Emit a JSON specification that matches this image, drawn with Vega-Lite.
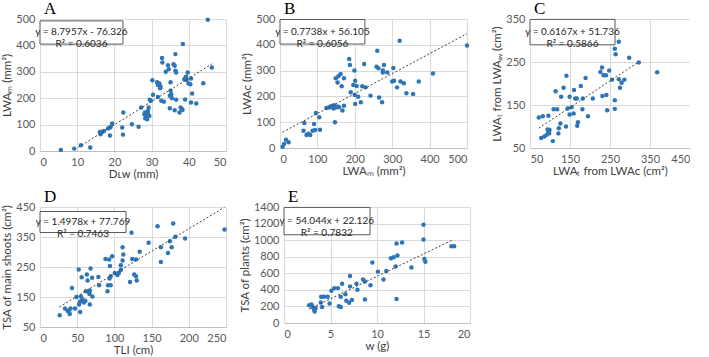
{
  "$schema": "https://vega.github.io/schema/vega-lite/v6.json",
  "background": "white",
  "padding": {"left": 1, "top": 0, "right": 0, "bottom": 0},
  "config": {
    "view": {"stroke": null},
    "font": "Lato",
    "axis": {
      "gridColor": "#d9d9d9",
      "gridWidth": 1,
      "ticks": false,
      "labelOverlap": false,
      "labelColor": "#595959",
      "labelFontSize": 11,
      "titleFontSize": 11.5,
      "titleFontWeight": "normal",
      "titleColor": "#404040"
    },
    "axisX": {"domainColor": "#bfbfbf", "labelPadding": 5, "titlePadding": 1},
    "axisY": {"domain": false, "labelPadding": 5, "titlePadding": 3},
    "title": {
      "anchor": "start",
      "frame": "group",
      "font": "Liberation Serif",
      "fontSize": 17,
      "fontWeight": "normal",
      "color": "#000000",
      "offset": -5,
      "dx": 4
    },
    "circle": {"size": 20, "color": "#2E75B6", "opacity": 1},
    "line": {"color": "#404040", "strokeDash": [2, 2], "strokeWidth": 1},
    "rect": {"fill": "white", "stroke": "#595959", "strokeWidth": 1},
    "text": {"fontSize": 10, "color": "#262626", "lineHeight": 12, "baseline": "middle", "align": "center"}
  },
  "datasets": {
    "a": [
      {"x": 5.6, "y": 4}, {"x": 9.2, "y": 9}, {"x": 11.0, "y": 22}, {"x": 13.5, "y": 13},
      {"x": 16.1, "y": 72}, {"x": 16.3, "y": 63}, {"x": 16.8, "y": 73}, {"x": 17.2, "y": 76},
      {"x": 18.3, "y": 85}, {"x": 18.8, "y": 89}, {"x": 19.0, "y": 91}, {"x": 19.4, "y": 104},
      {"x": 18.8, "y": 59}, {"x": 22.1, "y": 89}, {"x": 22.4, "y": 146}, {"x": 22.3, "y": 62},
      {"x": 24.7, "y": 101}, {"x": 26.5, "y": 92}, {"x": 27.2, "y": 165}, {"x": 28.1, "y": 139},
      {"x": 28.2, "y": 146}, {"x": 28.4, "y": 137}, {"x": 28.6, "y": 127}, {"x": 28.8, "y": 120},
      {"x": 28.3, "y": 124}, {"x": 29.0, "y": 152}, {"x": 29.2, "y": 165}, {"x": 29.4, "y": 133},
      {"x": 29.0, "y": 142}, {"x": 29.5, "y": 194}, {"x": 29.8, "y": 190}, {"x": 30.2, "y": 268},
      {"x": 30.4, "y": 213}, {"x": 31.5, "y": 260}, {"x": 31.7, "y": 250}, {"x": 32.1, "y": 256},
      {"x": 32.4, "y": 244}, {"x": 31.7, "y": 205}, {"x": 32.6, "y": 190}, {"x": 32.3, "y": 238},
      {"x": 32.8, "y": 352}, {"x": 32.9, "y": 335}, {"x": 33.3, "y": 187}, {"x": 33.8, "y": 300},
      {"x": 34.4, "y": 325}, {"x": 34.6, "y": 310}, {"x": 34.9, "y": 162}, {"x": 35.1, "y": 260},
      {"x": 35.1, "y": 228}, {"x": 35.3, "y": 215}, {"x": 34.9, "y": 209}, {"x": 35.5, "y": 200},
      {"x": 35.9, "y": 329}, {"x": 36.2, "y": 323}, {"x": 36.4, "y": 304}, {"x": 36.4, "y": 367},
      {"x": 36.6, "y": 297}, {"x": 36.2, "y": 154}, {"x": 36.6, "y": 194}, {"x": 37.5, "y": 146},
      {"x": 37.8, "y": 165}, {"x": 38.2, "y": 158}, {"x": 38.4, "y": 405}, {"x": 38.3, "y": 155},
      {"x": 38.8, "y": 272}, {"x": 39.1, "y": 278}, {"x": 39.3, "y": 281}, {"x": 39.4, "y": 269},
      {"x": 39.0, "y": 195}, {"x": 39.7, "y": 297}, {"x": 39.9, "y": 256}, {"x": 40.4, "y": 253},
      {"x": 40.6, "y": 275}, {"x": 40.6, "y": 184}, {"x": 40.9, "y": 218}, {"x": 42.0, "y": 180},
      {"x": 43.9, "y": 257}, {"x": 45.1, "y": 497}, {"x": 46.2, "y": 316}
    ],
    "a_fit": [{"x": 10.3, "y": 14.27}, {"x": 46.2, "y": 330.0}],
    "b": [
      {"x": 7, "y": 5}, {"x": 11, "y": 16}, {"x": 16, "y": 32}, {"x": 23, "y": 22},
      {"x": 63, "y": 67}, {"x": 65, "y": 97}, {"x": 71, "y": 50}, {"x": 76, "y": 55},
      {"x": 81, "y": 50}, {"x": 87, "y": 67}, {"x": 94, "y": 70}, {"x": 91, "y": 93},
      {"x": 96, "y": 136}, {"x": 105, "y": 119}, {"x": 107, "y": 71}, {"x": 124, "y": 155},
      {"x": 131, "y": 157}, {"x": 135, "y": 161}, {"x": 140, "y": 163}, {"x": 143, "y": 153},
      {"x": 145, "y": 166}, {"x": 149, "y": 157}, {"x": 154, "y": 161}, {"x": 149, "y": 270},
      {"x": 156, "y": 278}, {"x": 154, "y": 254}, {"x": 162, "y": 287}, {"x": 165, "y": 239},
      {"x": 167, "y": 145}, {"x": 171, "y": 164}, {"x": 171, "y": 270}, {"x": 147, "y": 100},
      {"x": 158, "y": 158}, {"x": 185, "y": 345}, {"x": 187, "y": 322}, {"x": 189, "y": 216},
      {"x": 196, "y": 244}, {"x": 199, "y": 300}, {"x": 201, "y": 261}, {"x": 200, "y": 205},
      {"x": 201, "y": 171}, {"x": 205, "y": 240}, {"x": 209, "y": 199}, {"x": 216, "y": 177},
      {"x": 220, "y": 239}, {"x": 225, "y": 326}, {"x": 229, "y": 235}, {"x": 242, "y": 203},
      {"x": 260, "y": 377}, {"x": 258, "y": 315}, {"x": 263, "y": 309}, {"x": 265, "y": 196},
      {"x": 273, "y": 177}, {"x": 275, "y": 300}, {"x": 278, "y": 322}, {"x": 275, "y": 293},
      {"x": 287, "y": 293}, {"x": 300, "y": 258}, {"x": 303, "y": 310}, {"x": 305, "y": 261},
      {"x": 313, "y": 235}, {"x": 320, "y": 416}, {"x": 322, "y": 258}, {"x": 331, "y": 251},
      {"x": 338, "y": 212}, {"x": 356, "y": 209}, {"x": 371, "y": 258}, {"x": 409, "y": 289},
      {"x": 500, "y": 397}
    ],
    "b_fit": [{"x": 7, "y": 61.52}, {"x": 500, "y": 443.0}],
    "c": [
      {"x": 72, "y": 121}, {"x": 78, "y": 73}, {"x": 82, "y": 124}, {"x": 86, "y": 77},
      {"x": 92, "y": 81}, {"x": 94, "y": 93}, {"x": 96, "y": 88}, {"x": 98, "y": 84},
      {"x": 99, "y": 92}, {"x": 96, "y": 125}, {"x": 107, "y": 66}, {"x": 109, "y": 140},
      {"x": 114, "y": 182}, {"x": 118, "y": 140}, {"x": 121, "y": 84}, {"x": 122, "y": 96},
      {"x": 126, "y": 107}, {"x": 128, "y": 169}, {"x": 134, "y": 190}, {"x": 140, "y": 100},
      {"x": 141, "y": 218}, {"x": 144, "y": 142}, {"x": 149, "y": 169}, {"x": 149, "y": 128},
      {"x": 154, "y": 145}, {"x": 159, "y": 130}, {"x": 160, "y": 185}, {"x": 163, "y": 165},
      {"x": 167, "y": 165}, {"x": 170, "y": 110}, {"x": 168, "y": 102}, {"x": 177, "y": 194},
      {"x": 181, "y": 140}, {"x": 182, "y": 165}, {"x": 189, "y": 213}, {"x": 195, "y": 124},
      {"x": 207, "y": 165}, {"x": 226, "y": 227}, {"x": 230, "y": 237}, {"x": 231, "y": 171},
      {"x": 234, "y": 219}, {"x": 240, "y": 219}, {"x": 241, "y": 173}, {"x": 243, "y": 138},
      {"x": 248, "y": 230}, {"x": 255, "y": 209}, {"x": 262, "y": 281}, {"x": 264, "y": 268},
      {"x": 262, "y": 161}, {"x": 262, "y": 141}, {"x": 272, "y": 297}, {"x": 272, "y": 210},
      {"x": 275, "y": 190}, {"x": 279, "y": 202}, {"x": 286, "y": 209}, {"x": 298, "y": 260},
      {"x": 322, "y": 249}, {"x": 368, "y": 226}
    ],
    "c_fit": [{"x": 72, "y": 96.14}, {"x": 322, "y": 250.31}],
    "d": [
      {"x": 26.5, "y": 89}, {"x": 33.6, "y": 112}, {"x": 37, "y": 104}, {"x": 39, "y": 101},
      {"x": 40, "y": 93}, {"x": 41, "y": 112}, {"x": 43, "y": 180}, {"x": 47, "y": 112},
      {"x": 49, "y": 150}, {"x": 52, "y": 242}, {"x": 52.5, "y": 125}, {"x": 54, "y": 100},
      {"x": 54, "y": 135}, {"x": 55, "y": 152}, {"x": 56, "y": 216}, {"x": 57, "y": 142},
      {"x": 59, "y": 132}, {"x": 61, "y": 137}, {"x": 61.5, "y": 169}, {"x": 63, "y": 225},
      {"x": 64, "y": 205}, {"x": 66, "y": 165}, {"x": 66.5, "y": 160}, {"x": 67, "y": 172},
      {"x": 67, "y": 125}, {"x": 68, "y": 245}, {"x": 70, "y": 214}, {"x": 70.5, "y": 152},
      {"x": 78.5, "y": 217}, {"x": 79.5, "y": 189}, {"x": 88, "y": 277}, {"x": 90.7, "y": 169},
      {"x": 91.5, "y": 189}, {"x": 93, "y": 275}, {"x": 94, "y": 253}, {"x": 95, "y": 219},
      {"x": 93.5, "y": 212}, {"x": 95, "y": 189}, {"x": 97, "y": 286}, {"x": 100.5, "y": 230},
      {"x": 104, "y": 223}, {"x": 106, "y": 230}, {"x": 108.6, "y": 256}, {"x": 111, "y": 316},
      {"x": 112, "y": 292}, {"x": 111, "y": 272}, {"x": 108.6, "y": 240}, {"x": 121, "y": 200},
      {"x": 123, "y": 364}, {"x": 124, "y": 277}, {"x": 126.6, "y": 225}, {"x": 129, "y": 219},
      {"x": 130, "y": 205}, {"x": 129, "y": 275}, {"x": 134, "y": 301}, {"x": 146, "y": 331},
      {"x": 158, "y": 386}, {"x": 162.5, "y": 316}, {"x": 162.5, "y": 267}, {"x": 172, "y": 297},
      {"x": 174.6, "y": 336}, {"x": 177, "y": 316}, {"x": 179, "y": 395}, {"x": 182, "y": 351},
      {"x": 195, "y": 345}, {"x": 248, "y": 375}
    ],
    "d_fit": [{"x": 26, "y": 116.71}, {"x": 248, "y": 449.22}],
    "e": [
      {"x": 2.7, "y": 215}, {"x": 2.96, "y": 223}, {"x": 3.07, "y": 194}, {"x": 3.25, "y": 161},
      {"x": 3.3, "y": 140}, {"x": 3.4, "y": 182}, {"x": 3.96, "y": 248}, {"x": 4.0, "y": 318},
      {"x": 4.1, "y": 194}, {"x": 4.3, "y": 318}, {"x": 4.7, "y": 318}, {"x": 4.9, "y": 235},
      {"x": 5.1, "y": 388}, {"x": 5.4, "y": 421}, {"x": 5.8, "y": 421}, {"x": 5.9, "y": 202},
      {"x": 6.1, "y": 318}, {"x": 6.1, "y": 194}, {"x": 6.25, "y": 475}, {"x": 6.6, "y": 347},
      {"x": 6.7, "y": 269}, {"x": 7.0, "y": 244}, {"x": 7.1, "y": 442}, {"x": 7.1, "y": 566},
      {"x": 7.3, "y": 277}, {"x": 7.8, "y": 475}, {"x": 7.9, "y": 401}, {"x": 8.5, "y": 525},
      {"x": 8.7, "y": 500}, {"x": 8.7, "y": 285}, {"x": 9.3, "y": 455}, {"x": 9.5, "y": 731},
      {"x": 10.1, "y": 620}, {"x": 10.7, "y": 525}, {"x": 11.0, "y": 628}, {"x": 11.5, "y": 781},
      {"x": 11.8, "y": 793}, {"x": 12.0, "y": 682}, {"x": 12.1, "y": 959}, {"x": 12.2, "y": 814},
      {"x": 12.1, "y": 289}, {"x": 12.7, "y": 971}, {"x": 13.7, "y": 669}, {"x": 15.0, "y": 1186},
      {"x": 15.0, "y": 1008}, {"x": 15.1, "y": 773}, {"x": 15.2, "y": 740}, {"x": 18.0, "y": 926},
      {"x": 18.3, "y": 926}
    ],
    "e_fit": [{"x": 2.7, "y": 168.05}, {"x": 18.1, "y": 1000.32}]
  },
  "spacing": 8,
  "vconcat": [
    {
      "spacing": 21,
      "hconcat": [
        {
          "spacing": 15,
          "hconcat": [
            {
              "width": 186,
              "height": 132,
              "title": {"text": "A"},
              "layer": [
                {
                  "data": {"name": "a"},
                  "mark": {"type": "circle"},
                  "encoding": {
                    "x": {"field": "x", "type": "quantitative", "title": "Dʟᴡ (mm)", "scale": {"domain": [0, 50], "nice": false}, "axis": {"values": [0, 10, 20, 30, 40, 50], "labelOverlap": false}},
                    "y": {"field": "y", "type": "quantitative", "title": "LWAₘ (mm²)", "scale": {"domain": [0, 500], "nice": false}, "axis": {"values": [0, 100, 200, 300, 400, 500], "labelOverlap": false}}
                  }
                },
                {
                  "data": {"name": "a_fit"},
                  "mark": {"type": "line"},
                  "encoding": {
                    "x": {"field": "x", "type": "quantitative", "title": "Dʟᴡ (mm)", "axis": {"values": [0, 10, 20, 30, 40, 50], "labelOverlap": false}},
                    "y": {"field": "y", "type": "quantitative", "title": "LWAₘ (mm²)", "axis": {"values": [0, 100, 200, 300, 400, 500], "labelOverlap": false}}
                  }
                },
                {
                  "data": {"values": [{"box": 1}]},
                  "mark": {"type": "rect"},
                  "encoding": {
                    "x": {"datum": 0, "type": "quantitative", "title": "Dʟᴡ (mm)", "axis": {"values": [0, 10, 20, 30, 40, 50], "labelOverlap": false}},
                    "x2": {"datum": 22.3},
                    "y": {"datum": 493, "type": "quantitative", "title": "LWAₘ (mm²)", "axis": {"values": [0, 100, 200, 300, 400, 500], "labelOverlap": false}},
                    "y2": {"datum": 405}
                  }
                },
                {
                  "data": {"values": [{"box": 1}]},
                  "mark": {"type": "text"},
                  "encoding": {
                    "x": {"datum": 11.15, "type": "quantitative", "title": "Dʟᴡ (mm)", "axis": {"values": [0, 10, 20, 30, 40, 50], "labelOverlap": false}},
                    "y": {"datum": 449, "type": "quantitative", "title": "LWAₘ (mm²)", "axis": {"values": [0, 100, 200, 300, 400, 500], "labelOverlap": false}},
                    "text": {"value": ["y = 8.7957x - 76.326", "R² = 0.6036"]}
                  }
                }
              ]
            },
            {
              "width": 187,
              "height": 129,
              "title": {"text": "B"},
              "layer": [
                {
                  "data": {"name": "b"},
                  "mark": {"type": "circle"},
                  "encoding": {
                    "x": {"field": "x", "type": "quantitative", "title": "LWAₘ (mm²)", "scale": {"domain": [0, 500], "nice": false}, "axis": {"values": [0, 100, 200, 300, 400, 500], "labelOverlap": false}},
                    "y": {"field": "y", "type": "quantitative", "title": "LWAᴄ (mm²)", "scale": {"domain": [0, 500], "nice": false}, "axis": {"values": [0, 100, 200, 300, 400, 500], "labelOverlap": false}}
                  }
                },
                {
                  "data": {"name": "b_fit"},
                  "mark": {"type": "line"},
                  "encoding": {
                    "x": {"field": "x", "type": "quantitative", "title": "LWAₘ (mm²)", "axis": {"values": [0, 100, 200, 300, 400, 500], "labelOverlap": false}},
                    "y": {"field": "y", "type": "quantitative", "title": "LWAᴄ (mm²)", "axis": {"values": [0, 100, 200, 300, 400, 500], "labelOverlap": false}}
                  }
                },
                {
                  "data": {"values": [{"box": 1}]},
                  "mark": {"type": "rect"},
                  "encoding": {
                    "x": {"datum": 0, "type": "quantitative", "title": "LWAₘ (mm²)", "axis": {"values": [0, 100, 200, 300, 400, 500], "labelOverlap": false}},
                    "x2": {"datum": 227},
                    "y": {"datum": 498, "type": "quantitative", "title": "LWAᴄ (mm²)", "axis": {"values": [0, 100, 200, 300, 400, 500], "labelOverlap": false}},
                    "y2": {"datum": 403}
                  }
                },
                {
                  "data": {"values": [{"box": 1}]},
                  "mark": {"type": "text"},
                  "encoding": {
                    "x": {"datum": 113.5, "type": "quantitative", "title": "LWAₘ (mm²)", "axis": {"values": [0, 100, 200, 300, 400, 500], "labelOverlap": false}},
                    "y": {"datum": 450, "type": "quantitative", "title": "LWAᴄ (mm²)", "axis": {"values": [0, 100, 200, 300, 400, 500], "labelOverlap": false}},
                    "text": {"value": ["y = 0.7738x + 56.105", "R² = 0.6056"]}
                  }
                }
              ]
            }
          ]
        },
        {
          "width": 160,
          "height": 129,
          "title": {"text": "C"},
          "layer": [
            {
              "data": {"name": "c"},
              "mark": {"type": "circle"},
              "encoding": {
                "x": {"field": "x", "type": "quantitative", "title": "LWAₜ from LWAᴄ (cm²)", "scale": {"domain": [50, 450], "nice": false}, "axis": {"values": [50, 150, 250, 350, 450], "labelOverlap": false}},
                "y": {"field": "y", "type": "quantitative", "title": "LWAₜ from LWAₐᵥ (cm²)", "scale": {"domain": [50, 350], "nice": false}, "axis": {"values": [50, 150, 250, 350], "labelOverlap": false}}
              }
            },
            {
              "data": {"name": "c_fit"},
              "mark": {"type": "line"},
              "encoding": {
                "x": {"field": "x", "type": "quantitative", "title": "LWAₜ from LWAᴄ (cm²)", "axis": {"values": [50, 150, 250, 350, 450], "labelOverlap": false}},
                "y": {"field": "y", "type": "quantitative", "title": "LWAₜ from LWAₐᵥ (cm²)", "axis": {"values": [50, 150, 250, 350], "labelOverlap": false}}
              }
            },
            {
              "data": {"values": [{"box": 1}]},
              "mark": {"type": "rect"},
              "encoding": {
                "x": {"datum": 50, "type": "quantitative", "title": "LWAₜ from LWAᴄ (cm²)", "axis": {"values": [50, 150, 250, 350, 450], "labelOverlap": false}},
                "x2": {"datum": 262.5},
                "y": {"datum": 349, "type": "quantitative", "title": "LWAₜ from LWAₐᵥ (cm²)", "axis": {"values": [50, 150, 250, 350], "labelOverlap": false}},
                "y2": {"datum": 290}
              }
            },
            {
              "data": {"values": [{"box": 1}]},
              "mark": {"type": "text"},
              "encoding": {
                "x": {"datum": 156.25, "type": "quantitative", "title": "LWAₜ from LWAᴄ (cm²)", "axis": {"values": [50, 150, 250, 350, 450], "labelOverlap": false}},
                "y": {"datum": 319.5, "type": "quantitative", "title": "LWAₜ from LWAₐᵥ (cm²)", "axis": {"values": [50, 150, 250, 350], "labelOverlap": false}},
                "text": {"value": ["y = 0.6167x + 51.736", "R² = 0.5866"]}
              }
            }
          ]
        }
      ]
    },
    {
      "spacing": 12,
      "hconcat": [
        {
          "width": 186,
          "height": 120,
          "title": {"text": "D"},
          "layer": [
            {
              "data": {"name": "d"},
              "mark": {"type": "circle"},
              "encoding": {
                "x": {"field": "x", "type": "quantitative", "title": "TLI (cm)", "scale": {"domain": [0, 250], "nice": false}, "axis": {"values": [0, 50, 100, 150, 200, 250], "labelOverlap": false}},
                "y": {"field": "y", "type": "quantitative", "title": "TSA of main shoots (cm²)", "scale": {"domain": [50, 450], "nice": false}, "axis": {"values": [50, 150, 250, 350, 450], "labelOverlap": false}}
              }
            },
            {
              "data": {"name": "d_fit"},
              "mark": {"type": "line"},
              "encoding": {
                "x": {"field": "x", "type": "quantitative", "title": "TLI (cm)", "axis": {"values": [0, 50, 100, 150, 200, 250], "labelOverlap": false}},
                "y": {"field": "y", "type": "quantitative", "title": "TSA of main shoots (cm²)", "axis": {"values": [50, 150, 250, 350, 450], "labelOverlap": false}}
              }
            },
            {
              "data": {"values": [{"box": 1}]},
              "mark": {"type": "rect"},
              "encoding": {
                "x": {"datum": 0, "type": "quantitative", "title": "TLI (cm)", "axis": {"values": [0, 50, 100, 150, 200, 250], "labelOverlap": false}},
                "x2": {"datum": 115.6},
                "y": {"datum": 435, "type": "quantitative", "title": "TSA of main shoots (cm²)", "axis": {"values": [50, 150, 250, 350, 450], "labelOverlap": false}},
                "y2": {"datum": 365}
              }
            },
            {
              "data": {"values": [{"box": 1}]},
              "mark": {"type": "text"},
              "encoding": {
                "x": {"datum": 57.8, "type": "quantitative", "title": "TLI (cm)", "axis": {"values": [0, 50, 100, 150, 200, 250], "labelOverlap": false}},
                "y": {"datum": 400, "type": "quantitative", "title": "TSA of main shoots (cm²)", "axis": {"values": [50, 150, 250, 350, 450], "labelOverlap": false}},
                "text": {"value": ["y = 1.4978x + 77.769", "R² = 0.7463"]}
              }
            }
          ]
        },
        {
          "width": 186,
          "height": 116,
          "title": {"text": "E"},
          "layer": [
            {
              "data": {"name": "e"},
              "mark": {"type": "circle"},
              "encoding": {
                "x": {"field": "x", "type": "quantitative", "title": "w (g)", "scale": {"domain": [0, 20], "nice": false}, "axis": {"values": [0, 5, 10, 15, 20], "labelOverlap": false}},
                "y": {"field": "y", "type": "quantitative", "title": "TSA of plants (cm²)", "scale": {"domain": [0, 1400], "nice": false}, "axis": {"values": [0, 200, 400, 600, 800, 1000, 1200, 1400], "format": "d", "labelOverlap": false}}
              }
            },
            {
              "data": {"name": "e_fit"},
              "mark": {"type": "line"},
              "encoding": {
                "x": {"field": "x", "type": "quantitative", "title": "w (g)", "axis": {"values": [0, 5, 10, 15, 20], "labelOverlap": false}},
                "y": {"field": "y", "type": "quantitative", "title": "TSA of plants (cm²)", "axis": {"values": [0, 200, 400, 600, 800, 1000, 1200, 1400], "format": "d", "labelOverlap": false}}
              }
            },
            {
              "data": {"values": [{"box": 1}]},
              "mark": {"type": "rect"},
              "encoding": {
                "x": {"datum": 0, "type": "quantitative", "title": "w (g)", "axis": {"values": [0, 5, 10, 15, 20], "labelOverlap": false}},
                "x2": {"datum": 9.25},
                "y": {"datum": 1395, "type": "quantitative", "title": "TSA of plants (cm²)", "axis": {"values": [0, 200, 400, 600, 800, 1000, 1200, 1400], "format": "d", "labelOverlap": false}},
                "y2": {"datum": 1065}
              }
            },
            {
              "data": {"values": [{"box": 1}]},
              "mark": {"type": "text"},
              "encoding": {
                "x": {"datum": 4.6, "type": "quantitative", "title": "w (g)", "axis": {"values": [0, 5, 10, 15, 20], "labelOverlap": false}},
                "y": {"datum": 1230, "type": "quantitative", "title": "TSA of plants (cm²)", "axis": {"values": [0, 200, 400, 600, 800, 1000, 1200, 1400], "format": "d", "labelOverlap": false}},
                "text": {"value": ["y = 54.044x + 22.126", "R² = 0.7832"]}
              }
            }
          ]
        }
      ]
    }
  ]
}
